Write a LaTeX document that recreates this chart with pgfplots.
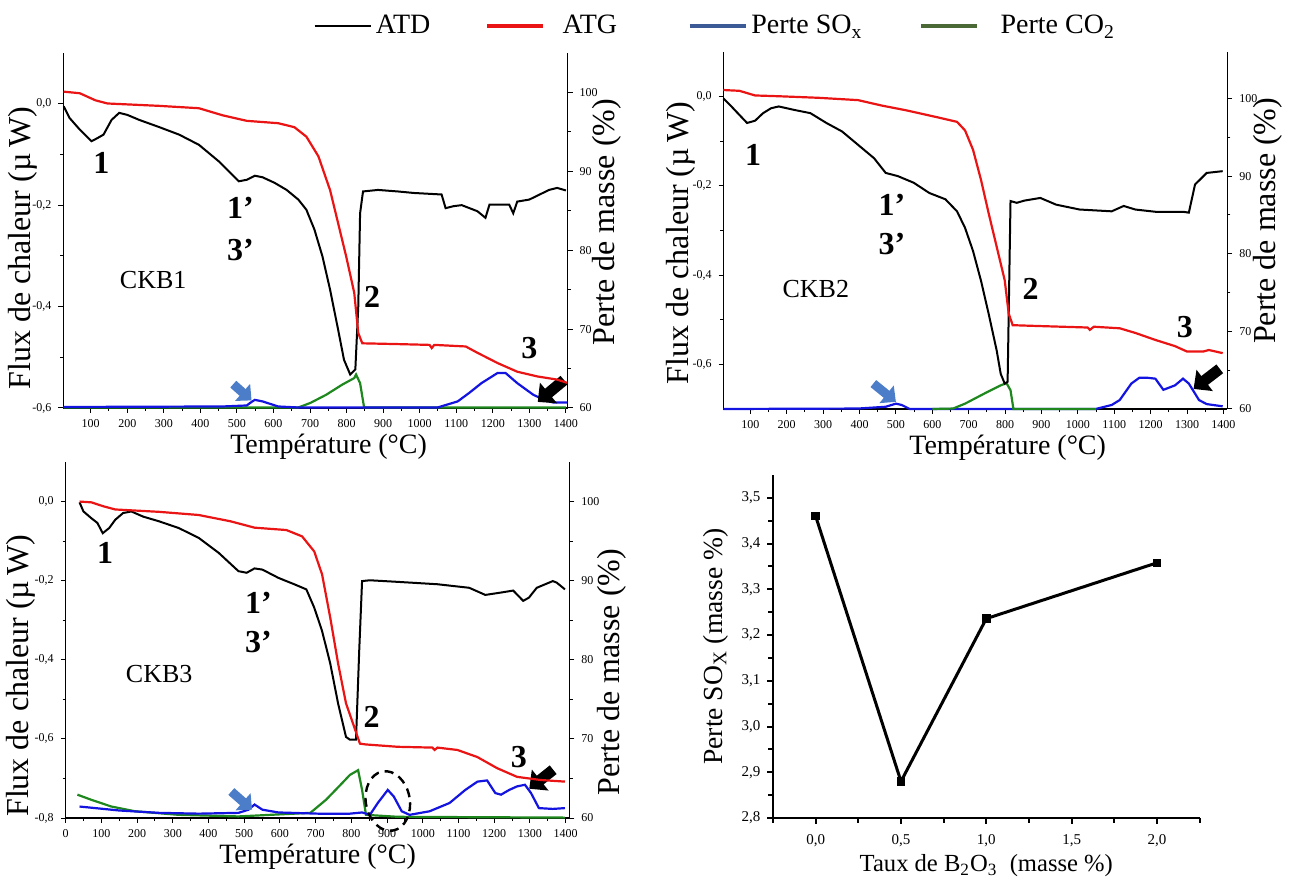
\documentclass[border=0pt]{standalone}
\usepackage{pgfplots}
\pgfplotsset{compat=1.18}
\usepackage{fontspec}
\setmainfont{Liberation Serif}
\usetikzlibrary{arrows.meta}
\definecolor{cblue}{RGB}{20,20,225}
\definecolor{cred}{RGB}{235,20,20}
\definecolor{cgreen}{RGB}{30,135,30}
\definecolor{lblue}{RGB}{60,90,150}
\definecolor{lgreen}{RGB}{75,105,55}
\definecolor{arrblue}{RGB}{75,125,200}

\tikzset{
  lab/.style={font=\bfseries\fontsize{16}{19}\selectfont},
  ckb/.style={font=\fontsize{13}{15}\selectfont},
  barrow/.style={arrblue, line width=4.5pt, -{Triangle[length=6pt, width=11pt]}},
  karrow/.style={black, line width=5.5pt, -{Triangle[length=7pt, width=13pt]}},
}
\pgfplotsset{
  base/.style={scale only axis, anchor=south west, tick align=outside,
    axis line style={line width=0.7pt,-}, major tick length=2.4pt, minor tick length=1.5pt,
    tick style={line width=0.5pt, color=black},
    tick label style={font=\fontsize{6}{7}\selectfont},
    /pgf/number format/assume math mode=true, clip=false},
  leftax/.style={base, axis x line*=bottom, axis y line*=left,
    xticklabel style={/pgf/number format/1000 sep={}},
    yticklabel style={/pgf/number format/.cd, fixed, fixed zerofill, precision=1, use comma},
    minor x tick num=1, minor y tick num=1,
    xlabel={Température (°C)},
    ylabel={Flux de chaleur (µ\,W)},
    xlabel style={font=\fontsize{14}{16}\selectfont, anchor=center},
    ylabel style={font=\fontsize{16}{19}\selectfont, anchor=center}},
  rightax/.style={base, axis x line=none, axis y line*=right,
    ytick={60,70,80,90,100}, minor y tick num=1,
    ylabel={Perte de masse (\%)},
    ylabel style={font=\fontsize{16}{19}\selectfont, anchor=center}},
  atd/.style={black, line width=1pt, forget plot},
  atg/.style={cred, line width=1.1pt, forget plot},
  sox/.style={cblue, line width=1.1pt, forget plot},
  co2/.style={cgreen, line width=1.1pt, forget plot},
}

\begin{document}
\begin{tikzpicture}
\useasboundingbox (0,0) rectangle (647.5pt,439.5pt);

%================ Panel 1 (CKB1) =================
\begin{axis}[leftax, at={(31.65pt,235.5pt)}, width=252.2pt, height=177.5pt,
  xmin=25, xmax=1405, ymin=-0.6, ymax=0.1,
  xtick={100,200,...,1400}, ytick={-0.6,-0.4,-0.2,0},
  xlabel style={at={(axis description cs:0.526,-0.108)}},
  ylabel style={at={(axis description cs:-0.080,0.45)}},
  legend style={at={(axis description cs:0.495,1.076)}, anchor=west, draw=none, fill=none,
    legend columns=4, font=\fontsize{14}{16}\selectfont, inner sep=0pt,
    /tikz/column 2/.append style={column sep=25.5pt},
    /tikz/column 3/.append style={column sep=7pt},
    /tikz/column 4/.append style={column sep=33.5pt},
    /tikz/column 6/.append style={column sep=26.5pt},
    /tikz/column 7/.append style={column sep=9pt}},
  legend image code/.code={\draw[#1] (0pt,0pt) -- (28pt,0pt);}]
\addlegendimage{black, line width=1.3pt}
\addlegendimage{cred, line width=1.6pt}
\addlegendimage{lblue, line width=1.6pt}
\addlegendimage{lgreen, line width=1.6pt}
\legend{ATD, ATG, Perte SO\textsubscript{x}, Perte CO\textsubscript{2}}
\addplot[co2] coordinates {(26,-0.599) (668,-0.599) (701,-0.590) (744,-0.574) (788,-0.554) (821,-0.541) (826,-0.534) (837,-0.551) (848,-0.599) (1400,-0.599)};
\addplot[sox] coordinates {(26,-0.598) (461,-0.597) (527,-0.595) (540,-0.588) (549,-0.584) (570,-0.587) (613,-0.597) (668,-0.599) (1049,-0.599) (1104,-0.587) (1136,-0.570) (1169,-0.551) (1213,-0.531) (1235,-0.531) (1267,-0.551) (1311,-0.574) (1344,-0.585) (1365,-0.589) (1403,-0.589)};
\addplot[atd] coordinates {(26,-0.005) (42,-0.028) (70,-0.051) (102,-0.074) (118,-0.068) (135,-0.061) (157,-0.032) (178,-0.018) (200,-0.022) (233,-0.032) (287,-0.046) (342,-0.061) (396,-0.081) (451,-0.114) (483,-0.137) (505,-0.153) (527,-0.150) (549,-0.142) (570,-0.145) (603,-0.156) (636,-0.170) (668,-0.189) (690,-0.209) (712,-0.248) (734,-0.301) (755,-0.367) (777,-0.446) (793,-0.505) (810,-0.534) (824,-0.524) (832,-0.400) (837,-0.216) (845,-0.173) (886,-0.170) (940,-0.173) (984,-0.176) (1060,-0.179) (1071,-0.206) (1093,-0.202) (1115,-0.200) (1158,-0.212) (1180,-0.225) (1191,-0.199) (1245,-0.199) (1256,-0.216) (1267,-0.193) (1300,-0.189) (1354,-0.170) (1376,-0.166) (1400,-0.171)};
\node[lab] at (axis cs:129,-0.117) {1};
\node[lab] at (axis cs:510,-0.206) {1’};
\node[lab] at (axis cs:510,-0.288) {3’};
\node[ckb] at (axis cs:271,-0.347) {CKB1};
\node[lab] at (axis cs:870,-0.380) {2};
\node[lab] at (axis cs:1300,-0.482) {3};
\draw[barrow] (axis cs:490,-0.553) -- (axis cs:540,-0.585);
\draw[karrow] (axis cs:1395,-0.545) -- (axis cs:1323,-0.588);
\end{axis}
\begin{axis}[rightax, at={(31.65pt,235.5pt)}, width=252.2pt, height=177.5pt,
  xmin=25, xmax=1405, ymin=60, ymax=105,
  ylabel style={at={(axis description cs:1.077,0.524)}}]
\addplot[atg] coordinates {(26,100.1) (70,99.9) (113,99.0) (146,98.6) (287,98.3) (396,98.0) (461,97.1) (527,96.4) (613,96.1) (657,95.6) (690,94.4) (723,91.9) (755,87.6) (777,83.4) (799,79.2) (821,74.6) (832,69.5) (843,68.2) (940,68.1) (1027,68.0) (1033,67.6) (1040,68.0) (1126,67.8) (1158,67.0) (1213,65.7) (1267,64.6) (1322,64.0) (1376,63.6) (1403,63.2)};
\end{axis}

%================ Panel 2 (CKB2) =================
\begin{axis}[leftax, at={(361.7pt,235pt)}, width=252pt, height=178.5pt,
  xmin=26, xmax=1411, ymin=-0.7, ymax=0.1,
  xtick={100,200,...,1400}, ytick={-0.6,-0.4,-0.2,0},
  xlabel style={at={(axis description cs:0.564,-0.108)}},
  ylabel style={at={(axis description cs:-0.085,0.465)}}]
\addplot[sox] coordinates {(26,-0.700) (396,-0.699) (472,-0.695) (500,-0.688) (516,-0.691) (538,-0.700) (1049,-0.700) (1093,-0.691) (1115,-0.680) (1147,-0.643) (1169,-0.630) (1191,-0.630) (1213,-0.632) (1235,-0.657) (1267,-0.647) (1289,-0.632) (1305,-0.643) (1333,-0.680) (1354,-0.689) (1398,-0.694)};
\addplot[co2] coordinates {(600,-0.700) (657,-0.699) (690,-0.688) (744,-0.665) (788,-0.647) (804,-0.642) (815,-0.658) (823,-0.700) (1050,-0.700)};
\addplot[atd] coordinates {(26,-0.004) (48,-0.022) (70,-0.041) (91,-0.059) (113,-0.054) (135,-0.037) (157,-0.026) (178,-0.022) (222,-0.030) (265,-0.037) (309,-0.059) (352,-0.078) (396,-0.108) (440,-0.138) (472,-0.171) (505,-0.178) (549,-0.193) (592,-0.216) (636,-0.230) (668,-0.257) (690,-0.294) (712,-0.346) (734,-0.413) (755,-0.487) (777,-0.569) (788,-0.621) (799,-0.643) (807,-0.639) (815,-0.234) (832,-0.238) (853,-0.233) (897,-0.227) (940,-0.242) (1005,-0.253) (1093,-0.257) (1126,-0.245) (1158,-0.253) (1213,-0.258) (1289,-0.258) (1305,-0.260) (1322,-0.197) (1354,-0.171) (1398,-0.167)};
\node[lab] at (axis cs:108,-0.130) {1};
\node[lab] at (axis cs:489,-0.242) {1’};
\node[lab] at (axis cs:489,-0.331) {3’};
\node[ckb] at (axis cs:280,-0.431) {CKB2};
\node[lab] at (axis cs:870,-0.431) {2};
\node[lab] at (axis cs:1294,-0.517) {3};
\draw[barrow] (axis cs:438,-0.643) -- (axis cs:500,-0.684);
\draw[karrow] (axis cs:1390,-0.610) -- (axis cs:1318,-0.655);
\end{axis}
\begin{axis}[rightax, at={(361.7pt,235pt)}, width=252pt, height=178.5pt,
  xmin=26, xmax=1411, ymin=60, ymax=106,
  ylabel style={at={(axis description cs:1.080,0.527)}}]
\addplot[atg] coordinates {(26,101.1) (70,101.0) (113,100.4) (178,100.3) (287,100.1) (396,99.8) (461,99.1) (527,98.5) (613,97.6) (668,97.0) (690,95.9) (712,93.4) (734,89.5) (755,85.2) (777,80.9) (799,76.6) (810,72.3) (821,70.8) (886,70.7) (1027,70.5) (1033,70.2) (1044,70.6) (1115,70.4) (1158,69.8) (1213,68.9) (1267,68.1) (1300,67.4) (1344,67.4) (1360,67.6) (1398,67.2)};
\end{axis}

%================ Panel 3 (CKB3) =================
\begin{axis}[leftax, at={(32.8pt,30.5pt)}, width=252pt, height=178pt,
  xmin=0, xmax=1411, ymin=-0.8, ymax=0.1,
  xtick={0,100,...,1400}, ytick={-0.8,-0.6,-0.4,-0.2,0},
  xlabel style={at={(axis description cs:0.5,-0.108)}},
  ylabel style={at={(axis description cs:-0.088,0.40)}}]
\addplot[co2] coordinates {(33,-0.741) (72,-0.754) (128,-0.771) (195,-0.783) (317,-0.792) (484,-0.796) (685,-0.787) (729,-0.754) (774,-0.712) (796,-0.691) (819,-0.679) (830,-0.729) (841,-0.792) (930,-0.797) (1398,-0.799)};
\addplot[sox] coordinates {(39,-0.771) (150,-0.781) (262,-0.787) (373,-0.789) (484,-0.787) (512,-0.779) (529,-0.766) (551,-0.779) (596,-0.786) (707,-0.789) (796,-0.789) (830,-0.786) (852,-0.792) (874,-0.762) (902,-0.729) (919,-0.746) (941,-0.783) (963,-0.792) (1019,-0.783) (1075,-0.762) (1119,-0.729) (1153,-0.708) (1180,-0.705) (1203,-0.737) (1219,-0.741) (1242,-0.729) (1264,-0.720) (1286,-0.716) (1303,-0.737) (1325,-0.775) (1364,-0.777) (1398,-0.775)};
\addplot[atd] coordinates {(39,-0.002) (50,-0.025) (72,-0.042) (89,-0.054) (104,-0.080) (122,-0.067) (139,-0.046) (161,-0.029) (184,-0.025) (217,-0.038) (262,-0.050) (317,-0.067) (373,-0.092) (429,-0.130) (484,-0.176) (507,-0.180) (529,-0.169) (551,-0.172) (596,-0.193) (640,-0.209) (674,-0.222) (696,-0.268) (718,-0.327) (741,-0.410) (763,-0.511) (785,-0.595) (796,-0.602) (813,-0.602) (822,-0.377) (830,-0.201) (852,-0.199) (930,-0.203) (1041,-0.209) (1130,-0.218) (1175,-0.236) (1219,-0.230) (1253,-0.225) (1264,-0.235) (1281,-0.251) (1297,-0.243) (1319,-0.218) (1364,-0.201) (1375,-0.205) (1398,-0.222)};
\node[lab] at (axis cs:111,-0.130) {1};
\node[lab] at (axis cs:540,-0.255) {1’};
\node[lab] at (axis cs:540,-0.356) {3’};
\node[ckb] at (axis cs:262,-0.436) {CKB3};
\node[lab] at (axis cs:857,-0.545) {2};
\node[lab] at (axis cs:1269,-0.645) {3};
\draw[barrow] (axis cs:464,-0.733) -- (axis cs:522,-0.779);
\draw[karrow] (axis cs:1365,-0.678) -- (axis cs:1298,-0.726);
\draw[black, line width=1.2pt, dash pattern=on 4.5pt off 3pt, rotate around={10:(axis cs:902,-0.757)}] (axis cs:902,-0.757) ellipse [x radius=11pt, y radius=15pt];
\end{axis}
\begin{axis}[rightax, at={(32.8pt,30.5pt)}, width=252pt, height=178pt,
  xmin=0, xmax=1411, ymin=60, ymax=105,
  ylabel style={at={(axis description cs:1.083,0.41)}}]
\addplot[atg] coordinates {(39,100.0) (72,99.9) (106,99.4) (139,99.0) (262,98.7) (373,98.3) (462,97.5) (529,96.7) (618,96.4) (662,95.6) (696,93.7) (718,90.8) (741,85.3) (763,79.5) (785,74.5) (808,71.5) (824,69.4) (840,69.3) (930,69.0) (1027,68.9) (1033,68.6) (1041,68.9) (1097,68.6) (1153,67.7) (1208,66.3) (1264,65.2) (1331,64.8) (1398,64.6)};
\end{axis}

%================ Panel 4 =================
\begin{axis}[scale only axis, anchor=south west, at={(386.5pt,30.5pt)}, width=213.3pt, height=171.5pt,
  axis x line=bottom, axis y line=left, axis line style={line width=1.3pt,-},
  tick align=outside, major tick length=2.8pt, minor tick length=2.4pt,
  tick style={line width=1pt, color=black},
  xmin=-0.25, xmax=2.25, ymin=2.8, ymax=3.55,
  xtick={0,0.5,1,1.5,2}, minor xtick={-0.25,0.25,0.75,1.25,1.75,2.25},
  ytick={2.8,2.9,3.0,3.1,3.2,3.3,3.4,3.5}, minor ytick={2.85,2.95,3.05,3.15,3.25,3.35,3.45},
  tick label style={font=\fontsize{7.5}{9}\selectfont},
  xticklabel style={yshift=-2pt},
  /pgf/number format/assume math mode=true,
  xticklabel style={/pgf/number format/.cd, fixed, fixed zerofill, precision=1, use comma},
  yticklabel style={/pgf/number format/.cd, fixed, fixed zerofill, precision=1, use comma},
  xlabel={Taux de B\textsubscript{2}O\textsubscript{3}\enspace(masse \%)},
  ylabel={Perte SO\textsubscript{X} (masse \%)},
  xlabel style={font=\fontsize{12.3}{14}\selectfont, at={(axis description cs:0.5,-0.14)}, anchor=center},
  ylabel style={font=\fontsize{13.8}{16}\selectfont, at={(axis description cs:-0.135,0.5)}, anchor=center}]
\addplot[black, line width=1.5pt, mark=square*, mark size=1.4pt] coordinates {(0,3.46) (0.5,2.88) (1,3.236) (2,3.358)};
\end{axis}
\end{tikzpicture}
\end{document}
